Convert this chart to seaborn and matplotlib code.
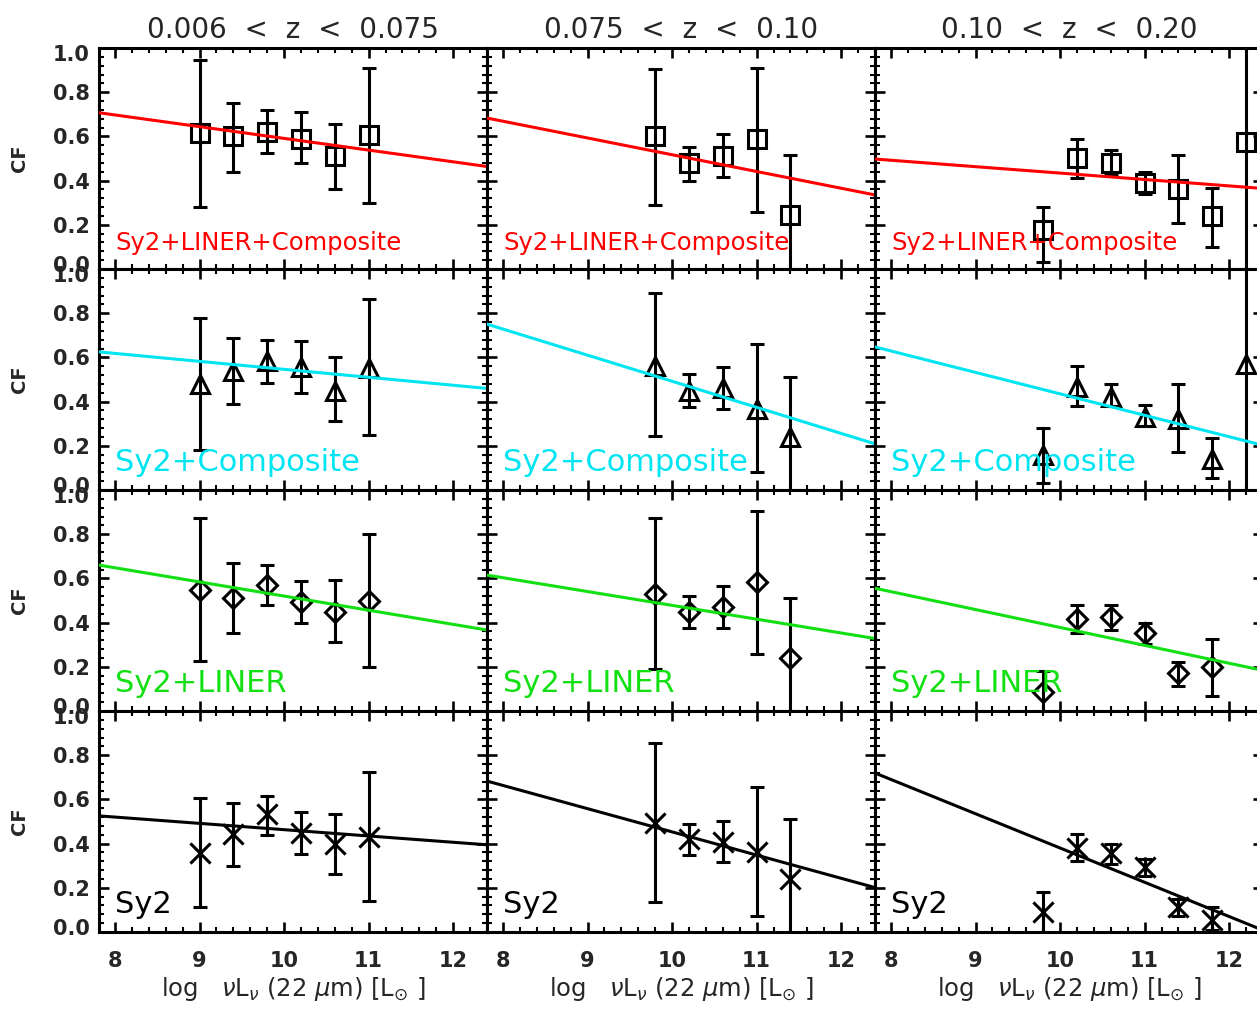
import numpy as np
import matplotlib
matplotlib.use("Agg")
import matplotlib.pyplot as plt
from matplotlib.path import Path
from matplotlib.ticker import MultipleLocator, FixedLocator, FormatStrFormatter
from matplotlib.transforms import ScaledTranslation
import seaborn as sns

# ---------------------------------------------------------------------------
# Covering fraction (CF) vs 22 micron luminosity, per AGN sample and redshift bin
# ---------------------------------------------------------------------------
samples = ["Sy2+LINER+Composite", "Sy2+Composite", "Sy2+LINER", "Sy2"]
sample_colors = ["#FF0000", "#00E5F2", "#12E012", "#000000"]
z_bins = ["0.006  <  z  <  0.075", "0.075  <  z  <  0.10", "0.10  <  z  <  0.20"]
cf_ticks = [0.0, 0.2, 0.4, 0.6, 0.8, 1.0]

# luminosity bin centres (log nuL_nu, L_sun) in each redshift bin
lum_bins = [
    [9.0, 9.4, 9.8, 10.2, 10.6, 11.0],
    [9.8, 10.2, 10.6, 11.0, 11.4],
    [9.8, 10.2, 10.6, 11.0, 11.4, 11.8, 12.2],
]

# Sy2+LINER+Composite
cf_mixed = [
    [0.615, 0.60, 0.62, 0.59, 0.51, 0.605],
    [0.60, 0.48, 0.51, 0.59, 0.245],
    [0.176, 0.50, 0.48, 0.39, 0.36, 0.24, 0.575],
]
cf_mixed_hi = [
    [0.946, 0.75, 0.72, 0.71, 0.655, 0.91],
    [0.905, 0.55, 0.61, 0.91, 0.515],
    [0.28, 0.59, 0.54, 0.44, 0.515, 0.365, 1.20],
]
cf_mixed_lo = [
    [0.28, 0.44, 0.525, 0.48, 0.36, 0.30],
    [0.29, 0.40, 0.415, 0.26, -0.05],
    [0.03, 0.41, 0.43, 0.34, 0.21, 0.10, -0.05],
]

# Sy2+Composite
cf_comp = [
    [0.48, 0.54, 0.585, 0.555, 0.45, 0.55],
    [0.56, 0.45, 0.46, 0.365, 0.24],
    [0.158, 0.465, 0.42, 0.33, 0.32, 0.14, 0.57],
]
cf_comp_hi = [
    [0.78, 0.69, 0.68, 0.675, 0.60, 0.865],
    [0.89, 0.525, 0.555, 0.66, 0.51],
    [0.28, 0.56, 0.48, 0.385, 0.48, 0.235, 1.20],
]
cf_comp_lo = [
    [0.18, 0.39, 0.485, 0.44, 0.31, 0.25],
    [0.245, 0.375, 0.365, 0.08, -0.05],
    [0.03, 0.38, 0.38, 0.29, 0.17, 0.055, -0.05],
]

# Sy2+LINER
cf_liner = [
    [0.548, 0.51, 0.57, 0.495, 0.45, 0.50],
    [0.53, 0.45, 0.47, 0.585, 0.24],
    [0.086, 0.415, 0.425, 0.352, 0.17, 0.20],
]
cf_liner_hi = [
    [0.875, 0.67, 0.66, 0.59, 0.595, 0.80],
    [0.875, 0.52, 0.565, 0.905, 0.51],
    [0.18, 0.48, 0.48, 0.40, 0.22, 0.325],
]
cf_liner_lo = [
    [0.225, 0.355, 0.48, 0.40, 0.31, 0.20],
    [0.19, 0.375, 0.375, 0.26, -0.05],
    [-0.05, 0.355, 0.365, 0.305, 0.115, 0.07],
]

# Sy2
cf_sy2 = [
    [0.357, 0.443, 0.534, 0.448, 0.398, 0.43],
    [0.493, 0.42, 0.407, 0.362, 0.24],
    [0.09, 0.38, 0.357, 0.295, 0.113, 0.054],
]
cf_sy2_hi = [
    [0.606, 0.583, 0.615, 0.543, 0.534, 0.724],
    [0.855, 0.49, 0.502, 0.656, 0.51],
    [0.18, 0.444, 0.398, 0.33, 0.149, 0.113],
]
cf_sy2_lo = [
    [0.113, 0.30, 0.44, 0.353, 0.262, 0.14],
    [0.136, 0.348, 0.317, 0.072, -0.05],
    [-0.05, 0.32, 0.308, 0.253, 0.072, 0.01],
]

# linear fits: CF at log L = 10 and slope per dex
fit_cf10 = [
    [0.591, 0.517, 0.434],
    [0.546, 0.492, 0.435],
    [0.520, 0.478, 0.378],
    [0.463, 0.453, 0.380],
]
fit_slope = [
    [-0.053, -0.0758, -0.029],
    [-0.036, -0.118, -0.097],
    [-0.064, -0.0625, -0.081],
    [-0.0285, -0.105, -0.155],
]

cf_values = [cf_mixed, cf_comp, cf_liner, cf_sy2]
cf_upper = [cf_mixed_hi, cf_comp_hi, cf_liner_hi, cf_sy2_hi]
cf_lower = [cf_mixed_lo, cf_comp_lo, cf_liner_lo, cf_sy2_lo]

# asterisk symbol: an X crossed by a vertical bar
asterisk = Path(
    [(-1, -1), (1, 1), (-1, 1), (1, -1), (0, -1), (0, 1)],
    [Path.MOVETO, Path.LINETO, Path.MOVETO, Path.LINETO, Path.MOVETO, Path.LINETO],
)
markers = [("s", 13), ("^", 13), ("D", 10.5), (asterisk, 14.5)]
label_sizes = [17.5, 22, 22, 22]

sns.set_theme(style="ticks")
plt.rcParams["font.family"] = ["DejaVu Sans"]
plt.rcParams["mathtext.fontset"] = "dejavusans"
plt.rcParams["axes.linewidth"] = 2.2

W, H = 1257, 1009
fig = plt.figure(figsize=(W / 100, H / 100), dpi=100)
fig.patch.set_facecolor("white")

col_left = [99, 487, 875]
row_top = [48, 269, 490, 711]
panel_w, panel_h = 388, 221
xlim = (7.81, 12.40)

for r, sample in enumerate(samples):
    for c in range(3):
        ax = fig.add_axes([col_left[c] / W, 1 - (row_top[r] + panel_h) / H,
                           panel_w / W, panel_h / H])
        ax.set_facecolor("white")
        ax.set_xlim(*xlim)
        ax.set_ylim(0, 1.0)

        cf = np.array(cf_values[r][c])
        hi = np.array(cf_upper[r][c])
        lo = np.array(cf_lower[r][c])
        x = np.array(lum_bins[c][:len(cf)])
        mk, ms = markers[r]
        ax.errorbar(x, cf, yerr=[cf - lo, hi - cf], fmt="none", ecolor="black",
                    elinewidth=2.2, capsize=5.3, capthick=2.2, zorder=2)
        ax.plot(x, cf, linestyle="none", marker=mk, markersize=ms,
                markerfacecolor="none", markeredgecolor="black",
                markeredgewidth=2.2, zorder=2.5)

        # straight-line fit across the whole panel
        xs = np.array([xlim[0], xlim[1] + 0.1])
        ys = fit_cf10[r][c] + fit_slope[r][c] * (xs - 10.0)
        sns.lineplot(x=xs, y=ys, ax=ax, color=sample_colors[r], linewidth=2.2,
                     zorder=3)

        ax.text(8.0, 0.088, sample, color=sample_colors[r],
                fontsize=label_sizes[r], va="baseline", ha="left", zorder=4)

        ax.xaxis.set_major_locator(MultipleLocator(1))
        ax.xaxis.set_minor_locator(MultipleLocator(0.2))
        ax.yaxis.set_major_locator(FixedLocator(cf_ticks))
        ax.yaxis.set_minor_locator(MultipleLocator(0.04))
        ax.yaxis.set_major_formatter(FormatStrFormatter("%.1f"))
        ax.tick_params(which="both", direction="in", top=True, right=True,
                       bottom=True, left=True, color="black")
        ax.tick_params(which="major", length=7, width=1.9)
        ax.tick_params(which="minor", length=3.4, width=1.5)
        ax.tick_params(axis="y", pad=6.5, labelsize=15)
        ax.tick_params(axis="x", pad=13.5, labelsize=15)
        ax.tick_params(labelleft=(c == 0), labelbottom=(r == 3))
        for lab in ax.get_xticklabels() + ax.get_yticklabels():
            lab.set_fontweight("bold")
        for sp in ax.spines.values():
            sp.set_visible(True)
            sp.set_color("black")
            sp.set_linewidth(2.2)

        ax.set_xlabel("")
        ax.set_ylabel("")
        if c == 0:
            ax.set_ylabel("CF", fontsize=14, fontweight="bold", labelpad=17)
            # end labels sit a little inside the panel
            yt = ax.yaxis.get_major_ticks(len(cf_ticks))
            for t in yt:
                t.label1.set_fontweight("bold")
            lo_lab, hi_lab = yt[0].label1, yt[-1].label1
            lo_lab.set_transform(lo_lab.get_transform()
                                 + ScaledTranslation(0, 5 / 100, fig.dpi_scale_trans))
            hi_lab.set_transform(hi_lab.get_transform()
                                 + ScaledTranslation(0, -5 / 100, fig.dpi_scale_trans))
        if r == 3:
            for t in ax.xaxis.get_major_ticks():
                t.label1.set_fontweight("bold")
            ax.set_xlabel(r"log   $\nu$L$_{\nu}$ (22 $\mu$m) [L$_{\odot}$ ]",
                          fontsize=17.5, labelpad=3)
        if r == 0:
            ax.set_title(z_bins[c], fontsize=20, pad=7)

fig.savefig("out.png", dpi=100, facecolor="white")
